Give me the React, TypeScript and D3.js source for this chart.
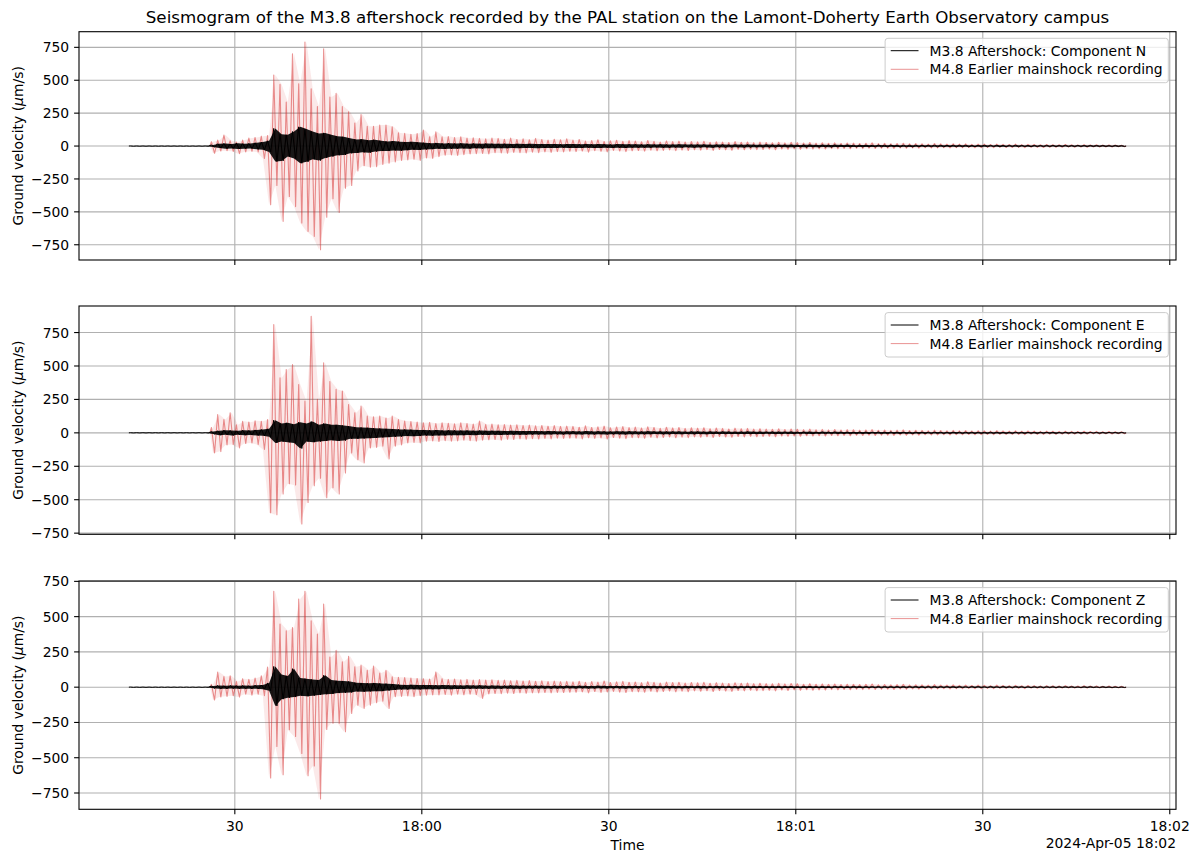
import React, { useEffect, useRef } from "react";
import * as d3 from "d3";

const W = 1200;
const H = 862;

// ---- Data (per-second envelope of each trace, µm/s) ----
const afterStart = new Date(2024, 3, 5, 17, 59, 13); // M3.8 aftershock trace start
const mainStart = new Date(2024, 3, 5, 17, 59, 26); // M4.8 mainshock (aligned) start
const binSeconds = 1;

const titleText =
  "Seismogram of the M3.8 aftershock recorded by the PAL station on the Lamont-Doherty Earth Observatory campus";
const componentNames = ["N", "E", "Z"];
const yTickValues = [-750, -500, -250, 0, 250, 500, 750];
const xLabel = "Time";
const offsetLabel = "2024-Apr-05 18:02";

// Component N
const nAfterMax = [
  1, 1, 1, 1, 1, 1, 1, 1, 1, 1, 1, 1, 1,
  8, 18, 20, 15, 22, 18, 20, 25, 30, 40,
  134, 90, 85, 110, 146, 130, 110, 95, 100, 85,
  75, 70, 60, 50, 52, 45, 48, 40, 35, 38,
  33, 30, 32, 28, 25,
  22, 24, 20, 22, 19, 21, 18, 20, 17, 19,
  18, 17, 18, 16, 17, 16, 17, 15, 16, 15, 16, 14, 15,
  15, 14, 16, 13, 15, 14, 12, 15, 13, 14,
  13, 12, 14, 12, 13, 11, 12, 13, 11, 12,
  11, 12, 10, 11, 12, 10, 11, 10, 11, 9,
  10, 11, 9, 10, 9, 10, 8, 9, 10, 8,
  9, 8, 9, 8, 9, 7, 8, 8, 7, 8,
  7, 8, 7, 7, 6, 7, 7, 6, 7, 6,
  6, 7, 6, 6, 5, 6, 6, 5, 6, 5,
  5, 6, 5, 5, 5, 4, 5, 5, 4, 5,
  4, 5, 4, 4, 4, 4, 3, 4, 3,
];
const nAfterMin = [
  -1, -1, -1, -1, -1, -1, -1, -1, -1, -1, -1, -1, -1,
  -8, -15, -20, -18, -22, -20, -18, -25, -28, -45,
  -118, -113, -80, -95, -131, -120, -100, -110, -90, -80,
  -70, -68, -55, -52, -48, -50, -42, -38, -38, -33,
  -35, -32, -28, -30, -26,
  -24, -20, -22, -21, -20, -18, -20, -17, -19, -16,
  -17, -16, -17, -15, -16, -15, -14, -16, -15, -14, -15, -13, -14,
  -14, -15, -13, -15, -14, -12, -14, -13, -15, -12,
  -13, -12, -13, -11, -12, -13, -11, -12, -10, -12,
  -11, -10, -12, -10, -11, -10, -9, -11, -10, -9,
  -10, -9, -10, -8, -9, -9, -8, -9, -8, -9,
  -8, -9, -8, -7, -8, -7, -8, -7, -7, -6,
  -7, -6, -7, -6, -7, -6, -6, -5, -6, -6,
  -5, -6, -5, -6, -5, -5, -5, -4, -5, -5,
  -4, -5, -4, -5, -4, -4, -4, -4, -3, -4,
  -4, -3, -4, -3, -3, -3, -3, -3, -3,
];
const nMainMax = [
  33, 45, 83, 40, 30, 45, 60, 65, 75, 80, 540, 470, 335, 700, 473, 790, 435, 300, 739, 373, 400,
  300, 260, 175, 240, 150, 150, 160, 160, 147, 100,
  96, 90, 95, 121, 71, 109, 70, 72, 65, 70,
  60, 62, 58, 55, 60, 58, 52, 60, 50, 55, 48, 58, 50, 45, 52, 48, 55,
  45, 50, 38, 42, 48, 35, 40, 44, 36, 41,
  38, 33, 42, 36, 30, 39, 34, 37, 31, 35,
  32, 36, 28, 33, 30, 27, 34, 29, 31, 26,
  30, 27, 25, 29, 24, 28, 26, 23, 27, 22,
  25, 21, 24, 20, 23, 22, 19, 21, 24, 18,
  20, 17, 19, 21, 16, 18, 17, 15, 19, 16,
  15, 17, 14, 16, 13, 15, 14, 12, 15, 13,
  12, 14, 11, 13, 12, 10, 12, 11, 10, 12,
  10, 9, 11, 9, 10, 8, 9, 8, 7,
];
const nMainMin = [
  -55, -38, -35, -40, -58, -45, -40, -45, -95, -446, -300, -572, -383, -460, -584, -648, -686, -787, -540, -400, -504,
  -320, -300, -190, -150, -160, -157, -140, -131, -120, -110,
  -106, -100, -110, -90, -94, -80, -70, -68, -72, -65,
  -60, -58, -56, -60, -50, -52, -55, -48, -50, -52, -46, -50, -44, -48, -42, -45, -40,
  -42, -38, -46, -35, -40, -44, -33, -38, -42, -36,
  -34, -39, -31, -36, -33, -29, -35, -30, -34, -28,
  -31, -27, -33, -26, -29, -32, -25, -28, -24, -27,
  -26, -23, -28, -22, -25, -21, -24, -20, -23, -21,
  -22, -19, -21, -18, -20, -17, -19, -16, -18, -17,
  -16, -18, -15, -17, -14, -16, -13, -15, -14, -13,
  -14, -12, -13, -11, -13, -12, -11, -12, -10, -11,
  -11, -10, -12, -9, -10, -11, -9, -10, -9, -8,
  -9, -8, -9, -7, -8, -7, -8, -6, -6,
];

// Component E
const eAfterMax = [
  1, 1, 1, 1, 1, 1, 1, 1, 1, 1, 1, 1, 1,
  10, 15, 20, 18, 15, 20, 18, 22, 25, 30,
  95, 70, 75, 65, 80, 70, 85, 60, 70, 60,
  60, 55, 50, 42, 40, 38, 35, 32, 30, 28,
  26, 25, 24, 22, 22,
  20, 21, 18, 19, 18, 17, 18, 16, 17, 15,
  16, 15, 14, 15, 14, 13, 14, 13, 12, 13, 12, 11, 12,
  12, 11, 13, 11, 12, 11, 10, 12, 11, 12,
  11, 10, 12, 10, 11, 10, 11, 10, 9, 11,
  10, 9, 10, 9, 10, 9, 8, 9, 10, 8,
  9, 8, 9, 8, 8, 9, 7, 8, 8, 7,
  8, 7, 8, 7, 7, 6, 7, 7, 6, 7,
  6, 7, 6, 6, 5, 6, 6, 5, 6, 5,
  5, 6, 5, 5, 5, 5, 4, 5, 5, 4,
  4, 5, 4, 4, 4, 4, 4, 4, 3, 4,
  3, 4, 3, 3, 3, 3, 3, 3, 3,
];
const eAfterMin = [
  -1, -1, -1, -1, -1, -1, -1, -1, -1, -1, -1, -1, -1,
  -8, -18, -15, -20, -15, -18, -16, -20, -22, -30,
  -75, -65, -70, -75, -117, -65, -70, -65, -60, -55,
  -60, -58, -45, -45, -42, -40, -38, -34, -32, -30,
  -28, -24, -25, -24, -20,
  -21, -19, -20, -18, -17, -18, -16, -17, -15, -16,
  -15, -16, -15, -14, -14, -14, -13, -12, -13, -12, -11, -12, -11,
  -11, -12, -11, -12, -10, -12, -11, -10, -12, -10,
  -10, -11, -10, -9, -11, -10, -9, -10, -9, -10,
  -9, -10, -8, -9, -9, -8, -9, -8, -8, -9,
  -8, -7, -8, -8, -7, -8, -7, -7, -8, -6,
  -7, -6, -7, -6, -7, -6, -6, -7, -5, -6,
  -6, -5, -6, -5, -6, -5, -5, -5, -4, -5,
  -5, -4, -5, -4, -5, -4, -4, -4, -4, -4,
  -4, -3, -4, -3, -4, -3, -3, -4, -3, -3,
  -3, -3, -3, -2, -3, -3, -2, -3, -2,
];
const eMainMax = [
  40, 137, 100, 150, 60, 87, 80, 90, 87, 100, 809, 411, 473, 510, 361, 237, 871, 250, 523, 383, 325,
  312, 212, 150, 200, 125, 120, 125, 110, 125, 100,
  88, 85, 80, 75, 78, 70, 75, 72, 68, 75,
  70, 65, 88, 62, 65, 60, 62, 58, 60, 55, 58, 52, 55, 50, 54, 48, 50,
  48, 42, 52, 40, 45, 50, 38, 44, 47, 39,
  43, 36, 45, 40, 34, 42, 37, 40, 33, 38,
  35, 38, 31, 36, 33, 29, 35, 31, 33, 28,
  31, 28, 27, 30, 25, 29, 27, 24, 28, 23,
  26, 22, 25, 21, 24, 23, 20, 22, 24, 19,
  21, 18, 20, 22, 17, 19, 18, 16, 20, 17,
  16, 18, 15, 17, 14, 16, 15, 13, 16, 14,
  13, 15, 12, 14, 13, 11, 13, 12, 11, 12,
  11, 10, 12, 10, 11, 9, 10, 9, 8,
];
const eMainMin = [
  -150, -140, -90, -87, -112, -80, -75, -87, -124, -598, -612, -457, -380, -390, -681, -520, -395, -340, -485, -410, -457,
  -300, -150, -200, -225, -112, -110, -100, -195, -100, -90,
  -75, -72, -75, -62, -60, -65, -58, -62, -60, -55,
  -58, -62, -55, -52, -50, -55, -48, -50, -45, -48, -44, -46, -42, -45, -40, -42, -40,
  -40, -45, -37, -42, -38, -46, -35, -40, -43, -36,
  -37, -41, -33, -38, -35, -31, -37, -32, -36, -30,
  -33, -29, -35, -28, -31, -33, -27, -30, -26, -29,
  -27, -25, -29, -24, -26, -23, -25, -22, -24, -22,
  -23, -20, -22, -19, -21, -18, -20, -17, -19, -18,
  -17, -19, -16, -18, -15, -17, -14, -16, -15, -14,
  -15, -13, -14, -12, -14, -13, -12, -13, -11, -12,
  -12, -11, -13, -10, -11, -12, -10, -11, -10, -9,
  -10, -9, -10, -8, -9, -8, -9, -7, -7,
];

// Component Z
const zAfterMax = [
  1, 1, 1, 1, 1, 1, 1, 1, 1, 1, 1, 1, 1,
  8, 12, 10, 12, 11, 12, 10, 14, 15, 30,
  147, 90, 80, 131, 65, 60, 55, 50, 84, 50,
  45, 44, 40, 32, 30, 28, 30, 26, 25, 22,
  18, 16, 17, 15, 16, 15, 14, 15, 13, 14, 12, 13, 12, 13, 11,
  12, 11, 11, 12, 10, 11, 10, 11, 10, 9, 10, 9, 10,
  9, 10, 9, 8, 10, 9, 8, 9, 9, 8,
  9, 8, 8, 9, 7, 8, 8, 7, 8, 7,
  8, 7, 7, 8, 6, 7, 7, 6, 7, 6,
  7, 6, 6, 7, 6, 6, 5, 6, 6, 5,
  6, 5, 6, 5, 5, 6, 5, 5, 4, 5,
  5, 4, 5, 5, 4, 5, 4, 4, 5, 4,
  4, 4, 4, 3, 4, 4, 3, 4, 3, 4,
  3, 4, 3, 3, 3, 3, 3, 3, 3, 3,
  3, 2, 3, 3, 2, 3, 2, 2, 2,
];
const zAfterMin = [
  -1, -1, -1, -1, -1, -1, -1, -1, -1, -1, -1, -1, -1,
  -8, -12, -12, -10, -12, -11, -12, -12, -14, -25,
  -133, -85, -75, -70, -60, -65, -60, -55, -50, -48,
  -42, -40, -38, -30, -32, -30, -28, -28, -24, -20,
  -16, -17, -15, -16, -14, -15, -15, -13, -14, -13, -13, -12, -11, -12, -12,
  -11, -12, -10, -11, -11, -10, -10, -9, -10, -10, -9, -9, -8,
  -9, -8, -9, -9, -8, -9, -8, -8, -9, -7,
  -8, -8, -7, -8, -7, -8, -7, -7, -7, -6,
  -7, -7, -6, -7, -6, -6, -7, -6, -6, -5,
  -6, -6, -5, -6, -5, -6, -5, -5, -5, -5,
  -5, -5, -4, -5, -5, -4, -5, -4, -4, -4,
  -4, -4, -4, -4, -3, -4, -4, -3, -4, -3,
  -3, -4, -3, -3, -3, -3, -3, -3, -3, -3,
  -3, -2, -3, -3, -2, -3, -2, -3, -2, -2,
  -2, -2, -2, -2, -2, -2, -2, -2, -2,
];
const zMainMax = [
  20, 108, 75, 80, 40, 60, 55, 65, 80, 143, 679, 447, 400, 423, 625, 679, 470, 377, 590, 213, 262,
  180, 219, 144, 156, 120, 149, 100, 120, 73, 70,
  68, 65, 62, 60, 58, 108, 60, 55, 58, 52,
  55, 50, 54, 50, 52, 48, 50, 46, 48, 44, 47, 42, 45, 40, 43, 39, 41,
  38, 42, 34, 40, 36, 44, 33, 38, 41, 35,
  37, 32, 39, 34, 30, 36, 33, 35, 29, 33,
  31, 34, 28, 32, 29, 26, 31, 28, 30, 25,
  28, 25, 24, 27, 23, 26, 24, 21, 25, 20,
  23, 20, 22, 19, 21, 20, 18, 20, 22, 17,
  19, 16, 18, 20, 15, 17, 16, 14, 18, 15,
  14, 16, 13, 15, 12, 14, 13, 11, 14, 12,
  11, 13, 10, 12, 11, 9, 11, 10, 9, 11,
  9, 8, 10, 8, 9, 7, 8, 7, 6,
];
const zMainMin = [
  -91, -70, -65, -60, -70, -50, -56, -50, -60, -644, -420, -620, -302, -349, -470, -627, -559, -792, -300, -255, -255,
  -316, -186, -127, -151, -127, -110, -100, -151, -68, -65,
  -62, -68, -60, -57, -55, -55, -52, -56, -50, -54,
  -50, -52, -80, -48, -45, -46, -42, -45, -40, -43, -40, -41, -38, -40, -37, -38, -36,
  -36, -33, -40, -31, -37, -34, -30, -35, -38, -32,
  -33, -36, -29, -34, -31, -27, -33, -28, -32, -26,
  -29, -25, -31, -24, -27, -30, -23, -26, -22, -25,
  -24, -21, -26, -20, -23, -19, -22, -18, -21, -19,
  -20, -17, -19, -16, -18, -15, -17, -14, -16, -15,
  -14, -16, -13, -15, -12, -14, -11, -13, -12, -11,
  -12, -10, -11, -9, -11, -10, -9, -10, -8, -9,
  -9, -8, -10, -7, -8, -9, -7, -8, -7, -6,
  -7, -6, -7, -5, -6, -5, -6, -5, -4,
];

const afterMaxes = [nAfterMax, eAfterMax, zAfterMax];
const afterMins = [nAfterMin, eAfterMin, zAfterMin];
const mainMaxes = [nMainMax, eMainMax, zMainMax];
const mainMins = [nMainMin, eMainMin, zMainMin];

type Pt = [Date, number];
type Band = { t: Date; hi: number; lo: number };

// zig-zag through each bin's extremes (max then min)
function buildTrace(start: Date, maxs: number[], mins: number[]): Pt[] {
  const pts: Pt[] = [[start, 0]];
  const n = Math.min(maxs.length, mins.length);
  const ms = binSeconds * 1000;
  for (let i = 0; i < n; i++) {
    const t0 = start.getTime() + i * ms;
    pts.push([new Date(t0 + ms * 0.25), maxs[i]]);
    pts.push([new Date(t0 + ms * 0.75), mins[i]]);
  }
  pts.push([new Date(start.getTime() + n * ms), 0]);
  return pts;
}

// min/max envelope band of each bin
function buildBand(start: Date, maxs: number[], mins: number[]): Band[] {
  const n = Math.min(maxs.length, mins.length);
  const ms = binSeconds * 1000;
  const out: Band[] = [{ t: start, hi: 0, lo: 0 }];
  for (let i = 0; i < n; i++) {
    out.push({ t: new Date(start.getTime() + (i + 0.5) * ms), hi: maxs[i], lo: mins[i] });
  }
  out.push({ t: new Date(start.getTime() + n * ms), hi: 0, lo: 0 });
  return out;
}

const FONT = "'DejaVu Sans', Verdana, sans-serif";
const RED = "#d62728";

export default function App() {
  const ref = useRef<SVGSVGElement>(null);

  useEffect(() => {
    const svg = d3.select(ref.current);
    svg.selectAll("*").remove();

    const left = 79;
    const right = 1176;
    const panelTops = [31.7, 306, 581];
    const panelH = 228.3;
    const tickLen = 4.9;
    const fs = 13.9;

    const traces = componentNames.map((_, i) => ({
      after: buildTrace(afterStart, afterMaxes[i], afterMins[i]),
      main: buildTrace(mainStart, mainMaxes[i], mainMins[i]),
      afterBand: buildBand(afterStart, afterMaxes[i], afterMins[i]),
      mainBand: buildBand(mainStart, mainMaxes[i], mainMins[i]),
    }));

    // shared x domain with matplotlib-like 5% margins
    const allT = traces.flatMap((t) => [...t.after, ...t.main].map((p) => p[0].getTime()));
    const tMin = d3.min(allT)!;
    const tMax = d3.max(allT)!;
    const tPad = (tMax - tMin) * 0.05;
    const x = d3
      .scaleTime()
      .domain([new Date(tMin - tPad), new Date(tMax + tPad)])
      .range([left, right]);
    const xTicks = d3.timeSecond.every(30)!.range(x.domain()[0], new Date(x.domain()[1].getTime() + 1));
    const fmtTick = (d: Date) =>
      d.getSeconds() === 0 ? d3.timeFormat("%H:%M")(d) : d3.timeFormat("%S")(d);

    svg.append("rect").attr("width", W).attr("height", H).attr("fill", "#fff");

    // Title
    svg
      .append("text")
      .attr("x", (left + right) / 2)
      .attr("y", 23.4)
      .attr("text-anchor", "middle")
      .attr("font-family", FONT)
      .attr("font-size", 16.7)
      .attr("fill", "#000")
      .text(titleText);

    componentNames.forEach((comp, i) => {
      const top = panelTops[i];
      const bottom = top + panelH;
      const tr = traces[i];
      const vals = [...tr.after, ...tr.main].map((p) => p[1]);
      const vMin = d3.min(vals)!;
      const vMax = d3.max(vals)!;
      const vPad = (vMax - vMin) * 0.05;
      const y = d3
        .scaleLinear()
        .domain([vMin - vPad, vMax + vPad])
        .range([bottom, top]);

      const g = svg.append("g");

      // grid
      const yT = yTickValues.filter((v) => v >= y.domain()[0] && v <= y.domain()[1]);
      g.selectAll("line.gx")
        .data(xTicks)
        .join("line")
        .attr("x1", (d) => x(d))
        .attr("x2", (d) => x(d))
        .attr("y1", top)
        .attr("y2", bottom)
        .attr("stroke", "#b0b0b0")
        .attr("stroke-width", 1.1);
      g.selectAll("line.gy")
        .data(yT)
        .join("line")
        .attr("x1", left)
        .attr("x2", right)
        .attr("y1", (d) => y(d))
        .attr("y2", (d) => y(d))
        .attr("stroke", "#b0b0b0")
        .attr("stroke-width", 1.1);

      const line = d3
        .line<Pt>()
        .x((d) => x(d[0]))
        .y((d) => y(d[1]));
      const area = d3
        .area<Band>()
        .x((d) => x(d.t))
        .y0((d) => y(d.lo))
        .y1((d) => y(d.hi));

      // mainshock (red, translucent)
      g.append("path")
        .attr("d", area(tr.mainBand)!)
        .attr("fill", RED)
        .attr("fill-opacity", 0.1)
        .attr("stroke", "none");
      g.append("path")
        .attr("d", line(tr.main)!)
        .attr("fill", "none")
        .attr("stroke", RED)
        .attr("stroke-opacity", 0.5)
        .attr("stroke-width", 1.1)
        .attr("stroke-linejoin", "round");

      // aftershock (black): dense trace drawn as its envelope band plus zig-zag edge
      g.append("path")
        .attr("d", area(tr.afterBand)!)
        .attr("fill", "#000")
        .attr("fill-opacity", 0.9)
        .attr("stroke", "none");
      g.append("path")
        .attr("d", line(tr.after)!)
        .attr("fill", "none")
        .attr("stroke", "#000")
        .attr("stroke-width", 1)
        .attr("stroke-linejoin", "round");

      // spines
      g.append("rect")
        .attr("x", left)
        .attr("y", top)
        .attr("width", right - left)
        .attr("height", panelH)
        .attr("fill", "none")
        .attr("stroke", "#000")
        .attr("stroke-width", 1.1);

      // y ticks
      g.selectAll("line.ty")
        .data(yT)
        .join("line")
        .attr("x1", left - tickLen)
        .attr("x2", left)
        .attr("y1", (d) => y(d))
        .attr("y2", (d) => y(d))
        .attr("stroke", "#000")
        .attr("stroke-width", 1.1);
      g.selectAll("text.ty")
        .data(yT)
        .join("text")
        .attr("x", left - tickLen - 4.9)
        .attr("y", (d) => y(d) + 5)
        .attr("text-anchor", "end")
        .attr("font-family", FONT)
        .attr("font-size", fs)
        .text((d) => d3.format("d")(d));

      // x ticks
      g.selectAll("line.tx")
        .data(xTicks)
        .join("line")
        .attr("x1", (d) => x(d))
        .attr("x2", (d) => x(d))
        .attr("y1", bottom)
        .attr("y2", bottom + tickLen)
        .attr("stroke", "#000")
        .attr("stroke-width", 1.1);
      if (i === componentNames.length - 1) {
        g.selectAll("text.tx")
          .data(xTicks)
          .join("text")
          .attr("x", (d) => x(d))
          .attr("y", bottom + 21.2)
          .attr("text-anchor", "middle")
          .attr("font-family", FONT)
          .attr("font-size", fs)
          .text((d) => fmtTick(d));
        g.append("text")
          .attr("x", (left + right) / 2)
          .attr("y", bottom + 41)
          .attr("text-anchor", "middle")
          .attr("font-family", FONT)
          .attr("font-size", fs)
          .text(xLabel);
        g.append("text")
          .attr("x", right)
          .attr("y", bottom + 38.5)
          .attr("text-anchor", "end")
          .attr("font-family", FONT)
          .attr("font-size", fs)
          .text(offsetLabel);
      }

      // y label
      const yl = g
        .append("text")
        .attr("transform", `translate(22.5,${(top + bottom) / 2}) rotate(-90)`)
        .attr("text-anchor", "middle")
        .attr("font-family", FONT)
        .attr("font-size", fs);
      yl.append("tspan").text("Ground velocity (");
      yl.append("tspan").attr("font-style", "italic").text("\u03bc");
      yl.append("tspan").text("m/s)");

      // legend
      const labels = [`M3.8 Aftershock: Component ${comp}`, "M4.8 Earlier mainshock recording"];
      const lg = g.append("g");
      const box = lg.append("rect");
      const texts = labels.map((lab) =>
        lg.append("text").attr("font-family", FONT).attr("font-size", fs).text(lab)
      );
      const tw = d3.max(texts.map((t) => (t.node() as SVGTextElement).getComputedTextLength()))!;
      const boxW = 5.6 + 27.8 + 11.1 + tw + 5.6;
      const bx = right - 7.7 - boxW;
      const by = top + 6.6;
      box
        .attr("x", bx)
        .attr("y", by)
        .attr("width", boxW)
        .attr("height", 44.4)
        .attr("rx", 2.8)
        .attr("fill", "#fff")
        .attr("fill-opacity", 0.8)
        .attr("stroke", "#cccccc")
        .attr("stroke-width", 1);
      const rowY = [by + 12.4, by + 31];
      texts.forEach((t, k) => t.attr("x", bx + 5.6 + 27.8 + 11.1).attr("y", rowY[k] + 5));
      lg.append("line")
        .attr("x1", bx + 5.6)
        .attr("x2", bx + 5.6 + 27.8)
        .attr("y1", rowY[0])
        .attr("y2", rowY[0])
        .attr("stroke", "#000")
        .attr("stroke-width", 1);
      lg.append("line")
        .attr("x1", bx + 5.6)
        .attr("x2", bx + 5.6 + 27.8)
        .attr("y1", rowY[1])
        .attr("y2", rowY[1])
        .attr("stroke", RED)
        .attr("stroke-opacity", 0.5)
        .attr("stroke-width", 1);
    });
  }, []);

  return (
    <svg
      ref={ref}
      width={W}
      height={H}
      style={{ position: "absolute", left: 0, top: 0, display: "block", background: "#fff" }}
    />
  );
}
